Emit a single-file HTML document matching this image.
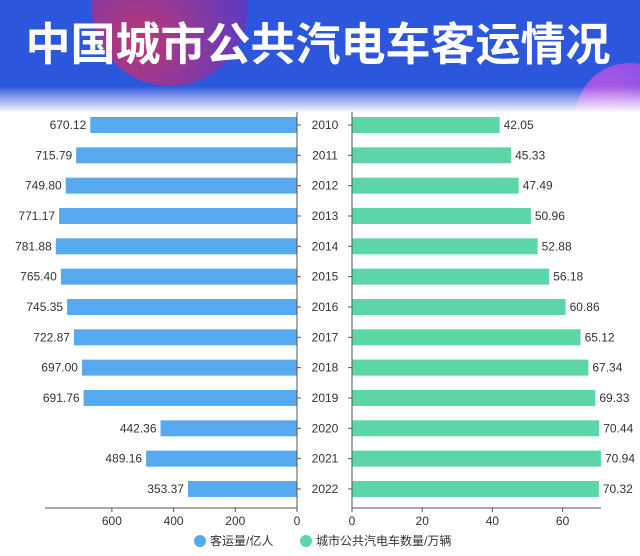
<!DOCTYPE html>
<html><head><meta charset="utf-8"><style>
body{margin:0;width:640px;height:551px;overflow:hidden;background:#fff;font-family:"Liberation Sans","Noto Sans CJK SC",sans-serif}
</style></head><body>
<svg width="640" height="551" xmlns="http://www.w3.org/2000/svg" id="svg">
<defs>
<linearGradient id="fade" x1="0" y1="0" x2="0" y2="1"><stop offset="0" stop-color="#fff" stop-opacity="0"/><stop offset="1" stop-color="#fff" stop-opacity="1"/></linearGradient>
<radialGradient id="c1" cx="0.3" cy="0.7" r="0.8"><stop offset="0" stop-color="#e0305a"/><stop offset="1" stop-color="#5a35c8"/></radialGradient>
<radialGradient id="c2" cx="0.3" cy="0.3" r="0.8"><stop offset="0" stop-color="#c85ae6"/><stop offset="1" stop-color="#7a45e6"/></radialGradient>
<clipPath id="hclip"><rect x="0" y="0" width="640" height="112"/></clipPath>
</defs>
<rect x="0" y="0" width="640" height="112" fill="#2c56dc"/>
<g clip-path="url(#hclip)">
<circle cx="170" cy="8" r="78" fill="url(#c1)" opacity="0.8"/>
<circle cx="630" cy="118" r="55" fill="url(#c2)" opacity="0.85"/>
</g>
<rect x="0" y="86" width="640" height="27" fill="url(#fade)"/>
<text x="318" y="60" text-anchor="middle" font-size="45" font-weight="bold" fill="#fff" style="font-family:'Noto Sans CJK SC',sans-serif">中国城市公共汽电车客运情况</text>
<g id="plot"></g>
</svg>
<script>
const years=["2010","2011","2012","2013","2014","2015","2016","2017","2018","2019","2020","2021","2022"];
const passengers=[670.12,715.79,749.80,771.17,781.88,765.40,745.35,722.87,697.00,691.76,442.36,489.16,353.37];
const vehicles=[42.05,45.33,47.49,50.96,52.88,56.18,60.86,65.12,67.34,69.33,70.44,70.94,70.32];
const leftTicks=[0,200,400,600];
const rightTicks=[0,20,40,60];
const ns="http://www.w3.org/2000/svg",g=document.getElementById('plot');
function mk(t,a,txt){const e=document.createElementNS(ns,t);for(const k in a)e.setAttribute(k,a[k]);if(txt!==undefined)e.textContent=txt;g.appendChild(e);return e;}
const L0=297,lk=0.3085,R0=352,rk=3.51,y0=125,dy=30.33,bh=16,axY=508;
const lx=v=>L0-v*lk, rx=v=>R0+v*rk, yy=i=>y0+i*dy;
years.forEach((yr,i)=>{
 const y=yy(i);
 let b=mk('rect',{x:lx(passengers[i]),y:y-bh/2,width:passengers[i]*lk,height:bh,fill:'#58aaf0'});
 
 
 let t=mk('text',{x:lx(passengers[i])-4,y:y+4,'text-anchor':'end','font-size':12,fill:'#333'},passengers[i].toFixed(2));
 
 
 let b2=mk('rect',{x:R0,y:y-bh/2,width:vehicles[i]*rk,height:bh,fill:'#5cd6a6'});
 
 
 let t2=mk('text',{x:rx(vehicles[i])+4,y:y+4,'font-size':12,fill:'#333'},vehicles[i].toFixed(2));
 
 
 let c=mk('text',{x:325,y:y+4,'text-anchor':'middle','font-size':12,fill:'#333'},yr);
 
 
 mk('line',{x1:L0,x2:L0+4,y1:y,y2:y,stroke:'#555'});
 mk('line',{x1:R0-4,x2:R0,y1:y,y2:y,stroke:'#555'});
});
let a1=mk('line',{x1:L0,x2:L0,y1:112,y2:axY,stroke:'#555'});

let a2=mk('line',{x1:R0,x2:R0,y1:112,y2:axY,stroke:'#555'});

let xa=mk('line',{x1:45,x2:L0,y1:axY,y2:axY,stroke:'#555'});

let xb=mk('line',{x1:R0,x2:601,y1:axY,y2:axY,stroke:'#555'});

leftTicks.forEach(v=>{mk('line',{x1:lx(v),x2:lx(v),y1:axY,y2:axY+4,stroke:'#555'});
 let t=mk('text',{x:lx(v),y:axY+17,'text-anchor':'middle','font-size':12,fill:'#333'},String(v));
 });
rightTicks.forEach(v=>{mk('line',{x1:rx(v),x2:rx(v),y1:axY,y2:axY+4,stroke:'#555'});
 let t=mk('text',{x:rx(v),y:axY+17,'text-anchor':'middle','font-size':12,fill:'#333'},String(v));
 });
let l1=mk('circle',{cx:200,cy:541,r:6,fill:'#58aaf0'});

let lt1=mk('text',{x:210,y:545,'font-size':12,fill:'#333'},'客运量/亿人');

let l2=mk('circle',{cx:306,cy:541,r:6,fill:'#5cd6a6'});

let lt2=mk('text',{x:316,y:545,'font-size':12,fill:'#333'},'城市公共汽电车数量/万辆');

</script>
</body></html>
